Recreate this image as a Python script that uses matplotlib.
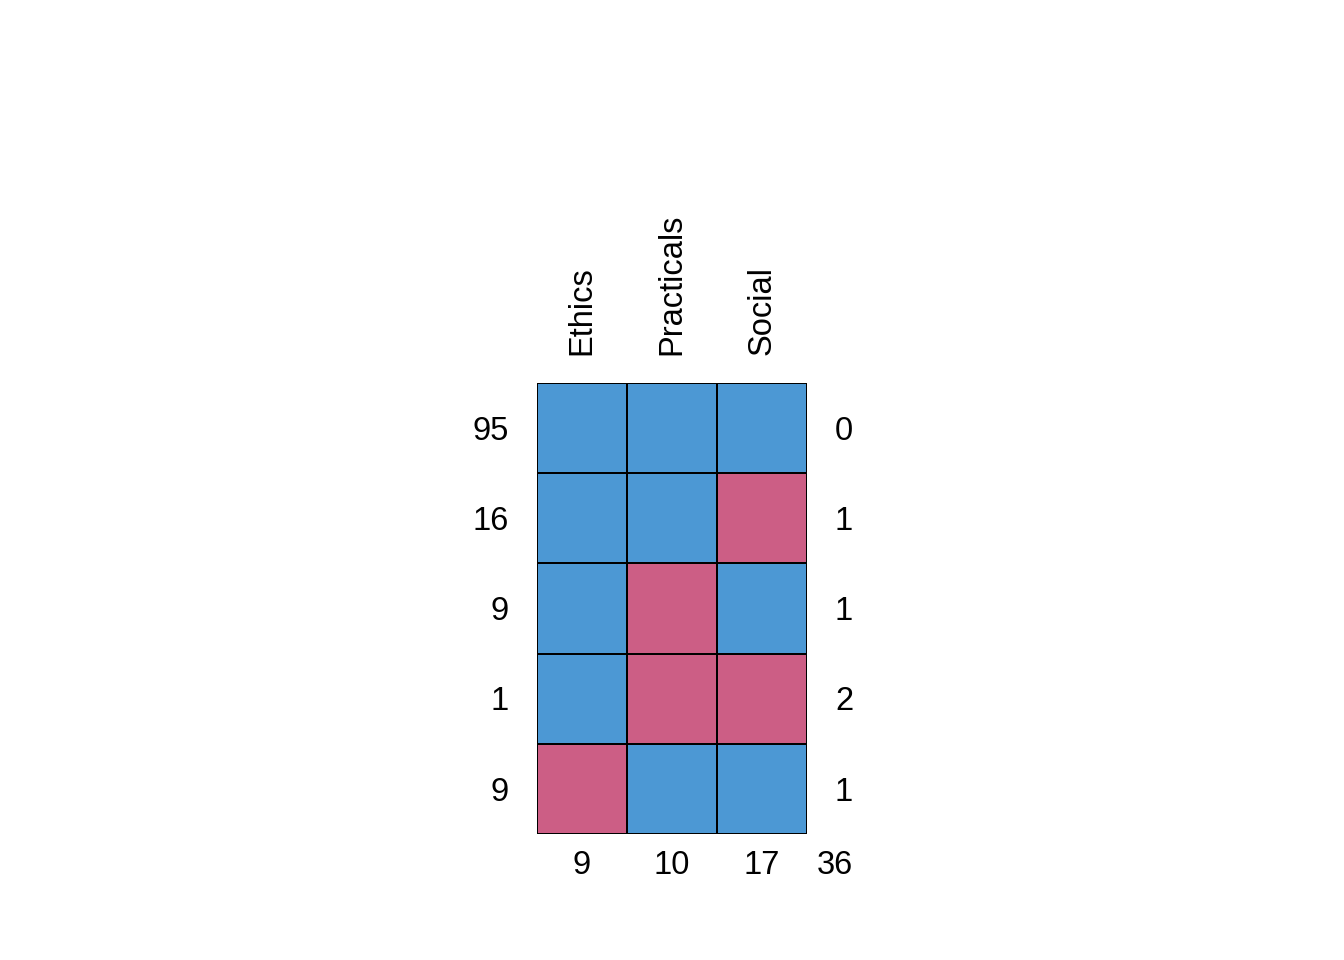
import numpy as np
import matplotlib.pyplot as plt
from matplotlib.colors import ListedColormap

plt.rcParams["font.family"] = ["Liberation Sans", "DejaVu Sans"]

# missing-data pattern (1 = observed, 0 = missing)
variables   = ["Ethics", "Practicals", "Social"]
row_counts  = [95, 16, 9, 1, 9]
n_missing   = [0, 1, 1, 2, 1]
col_missing = [9, 10, 17]
total_miss  = 36
pattern = [
    [1, 1, 1],
    [1, 1, 0],
    [1, 0, 1],
    [1, 0, 0],
    [0, 1, 1],
]

BLUE = "#4C98D4"
RED  = "#CC5E85"
FS   = 23.5
DY   = 0.035   # nudge numbers down a touch

fig = plt.figure(figsize=(13.44, 9.6), dpi=100)
ax = fig.add_axes([537 / 1344, 126 / 960, 270 / 1344, 451 / 960])

mat = np.array(pattern)
ax.pcolormesh(np.arange(mat.shape[1] + 1), np.arange(mat.shape[0] + 1), mat,
              cmap=ListedColormap([RED, BLUE]), vmin=0, vmax=1,
              edgecolors="black", linewidth=1.4)
ax.set_xlim(0, mat.shape[1])
ax.set_ylim(mat.shape[0], 0)
ax.axis("off")

for i, (cnt, nm) in enumerate(zip(row_counts, n_missing)):
    ax.text(-0.31, i + 0.5 + DY, str(cnt), ha="right", va="center",
            fontsize=FS, clip_on=False)
    ax.text(3.31, i + 0.5 + DY, str(nm), ha="left", va="center",
            fontsize=FS, clip_on=False)

for j, (var, cm) in enumerate(zip(variables, col_missing)):
    ax.text(j + 0.5, -0.31, var, ha="center", va="bottom", rotation=90,
            fontsize=FS, clip_on=False)
    ax.text(j + 0.5, 5.31 + DY, str(cm), ha="center", va="center",
            fontsize=FS, clip_on=False)
ax.text(3.31, 5.31 + DY, str(total_miss), ha="center", va="center",
        fontsize=FS, clip_on=False)

fig.savefig("out.png", dpi=100)
